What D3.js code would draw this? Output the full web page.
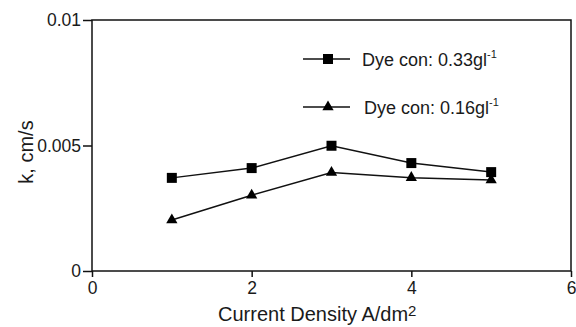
<meta charset="utf-8">
<head>
  <title>k vs current density</title>
</head>
<style>
  body { margin: 0; background: #fff; }
  text { font-family: "Liberation Sans", Arial, sans-serif; fill: #1a1a1a; }
</style>
<body>
  <div id="content"></div>
  <script src="https://cdnjs.cloudflare.com/ajax/libs/d3/7.8.5/d3.min.js"></script>
  <script>

const width = 576
const height = 327

// data
var density = [1, 2, 3, 4, 5];
var dye033 = [0.00371, 0.0041, 0.00499, 0.0043, 0.00394];
var dye016 = [0.00203, 0.00302, 0.00392, 0.00372, 0.00363];
var xTicks = [0, 2, 4, 6];
var yTicks = [0, 0.005, 0.01];
var yTickLabels = ["0", "0.005", "0.01"];

const svg = d3.select('#content')
  .append('svg')
    .attr('width', width)
    .attr('height', height)

var x = d3.scaleLinear().domain([0, 6]).range([92, 571])
var y = d3.scaleLinear().domain([0, 0.01]).range([271, 20])

// frame
svg.append('rect')
  .attr('x', x(0)).attr('y', y(0.01))
  .attr('width', x(6) - x(0)).attr('height', y(0) - y(0.01))
  .attr('fill', 'none').attr('stroke', '#111').attr('stroke-width', 1.5)

var xAxis = svg.append('g')
  .attr('transform', 'translate(0,' + y(0) + ')')
  .call(d3.axisBottom(x).tickValues(xTicks).tickSize(6).tickFormat(d3.format('d')))
var yAxis = svg.append('g')
  .attr('transform', 'translate(' + x(0) + ',0)')
  .call(d3.axisLeft(y).tickValues(yTicks).tickSize(9)
    .tickFormat(function(d, i) { return yTickLabels[i] }))

;[xAxis, yAxis].forEach(function(a) {
  a.select('.domain').remove()
  a.selectAll('line').attr('stroke', '#111').attr('stroke-width', 1.5)
  a.selectAll('text').style('font-size', '17.5px').attr('fill', '#1a1a1a')
})
xAxis.selectAll('text').attr('y', 9).attr('dy', '0.8em')
yAxis.selectAll('text').attr('x', -11)

var line = d3.line()
  .x(function(d) { return x(d[0]) })
  .y(function(d) { return y(d[1]) })

var series = [
  { name: "Dye con: 0.33gl", values: dye033, shape: d3.symbolSquare, size: 100 },
  { name: "Dye con: 0.16gl", values: dye016, shape: d3.symbolTriangle, size: 55 }
]

series.forEach(function(s) {
  var pts = density.map(function(d, i) { return [d, s.values[i]] })
  svg.append('path')
    .datum(pts)
    .attr('d', line)
    .attr('fill', 'none')
    .attr('stroke', '#111')
    .attr('stroke-width', 1.5)
  svg.selectAll(null)
    .data(pts)
    .enter()
    .append('path')
    .attr('d', d3.symbol().type(s.shape).size(s.size))
    .attr('transform', function(d) { return 'translate(' + x(d[0]) + ',' + y(d[1]) + ')' })
    .attr('fill', '#000')
})

// legend
var legY = [59, 107]
var legTx = [362, 364]
series.forEach(function(s, i) {
  var g = svg.append('g').attr('transform', 'translate(0,' + legY[i] + ')')
  g.append('line').attr('x1', 303).attr('x2', 350)
    .attr('stroke', '#111').attr('stroke-width', 1.5)
  g.append('path')
    .attr('d', d3.symbol().type(s.shape).size(s.size))
    .attr('transform', 'translate(328,0)')
  var t = g.append('text').attr('x', legTx[i]).attr('y', 7).style('font-size', '18px')
  t.append('tspan').text(s.name)
  t.append('tspan').attr('dy', -8).style('font-size', '11px').text('-1')
})

// axis titles
svg.append('text')
  .attr('transform', 'translate(33,152) rotate(-90)')
  .attr('text-anchor', 'middle')
  .style('font-size', '20px')
  .text('k, cm/s')

var xt = svg.append('text')
  .attr('x', 218).attr('y', 321)
  .style('font-size', '20px')
xt.append('tspan').text('Current Density A/dm')
xt.append('tspan').attr('dy', -5).style('font-size', '15px').text('2')

</script>
</body>
</html>
